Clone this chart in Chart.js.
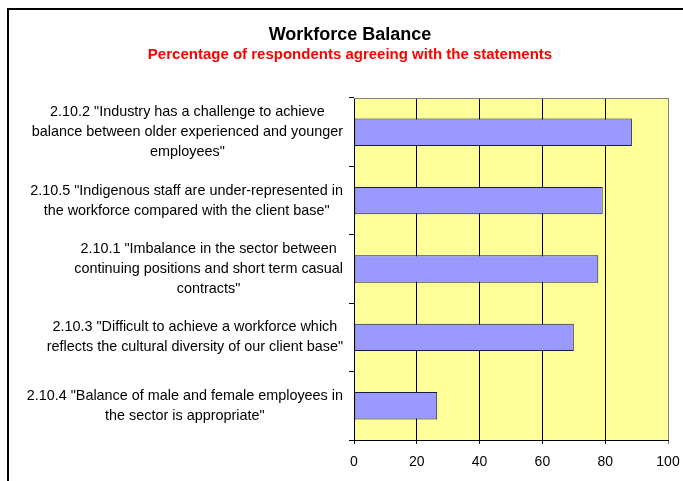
<!DOCTYPE html>
<html>
<head>
<meta charset="utf-8">
<script src="https://cdn.jsdelivr.net/npm/chart.js@4"></script>
<style>
  html, body { margin: 0; padding: 0; background: #fff; }
  #wrap { position: relative; width: 683px; height: 481px; }
</style>
</head>
<body>
<div id="wrap"><canvas id="chart" width="683" height="481"></canvas></div>
<script>
// ── DATA ──
const chartTitle    = 'Workforce Balance';
const chartSubtitle = 'Percentage of respondents agreeing with the statements';

const statements = [
    ['2.10.2 "Industry has a challenge to achieve', 'balance between older experienced and younger', 'employees"'],
    ['2.10.5 "Indigenous staff are under-represented in', 'the workforce compared with the client base"'],
    ['2.10.1 "Imbalance in the sector between', 'continuing positions and short term casual', 'contracts"'],
    ['2.10.3 "Difficult to achieve a workforce which', 'reflects the cultural diversity of our client base"'],
    ['2.10.4 "Balance of male and female employees in', 'the sector is appropriate"']
];
const agreePct = [88.5, 79.2, 77.8, 70.0, 26.5];
const xTickValues = [0, 20, 40, 60, 80, 100];

// ── PALETTE ──
const PLOT_BG  = '#FFFF99';
const BAR_FILL = '#9999FF';
const EDGE     = '#808080';
const FONT     = "'Liberation Sans', Arial, sans-serif";

// Plot background, gray top/right edges, outer frame, titles
const decorPlugin = {
    id: 'decor',
    beforeDraw(chart) {
        const { ctx, chartArea: a } = chart;
        ctx.save();
        ctx.fillStyle = PLOT_BG;
        ctx.fillRect(a.left, a.top, a.right - a.left, a.bottom - a.top);
        ctx.restore();
    },
    beforeDatasetsDraw(chart) {
        const { ctx, chartArea: a } = chart;
        ctx.save();
        ctx.strokeStyle = EDGE;
        ctx.lineWidth = 1;
        ctx.beginPath();
        ctx.moveTo(a.left, a.top + 0.5);
        ctx.lineTo(a.right + 0.5, a.top + 0.5);
        ctx.lineTo(a.right + 0.5, a.bottom);
        ctx.stroke();
        ctx.restore();
    },
    afterDraw(chart) {
        const { ctx } = chart;
        ctx.save();
        // outer frame (runs off the right and bottom edges)
        ctx.strokeStyle = '#000';
        ctx.lineWidth = 2;
        ctx.strokeRect(8, 9, 720, 520);

        ctx.textAlign = 'center';
        ctx.textBaseline = 'middle';
        ctx.fillStyle = '#000';
        ctx.font = 'bold 18px ' + FONT;
        ctx.fillText(chartTitle, 350, 35);
        ctx.fillStyle = '#FF0000';
        ctx.font = 'bold 15px ' + FONT;
        ctx.fillText(chartSubtitle, 350, 55);

        // category labels: each block centred, block right edge aligned
        const y = chart.scales.y;
        ctx.fillStyle = '#000';
        ctx.font = '14.4px ' + FONT;
        const lineH = 20;
        const rightEdge = 343;
        statements.forEach((lines, i) => {
            const cy = y.getPixelForValue(i);
            const w = Math.max(...lines.map(l => ctx.measureText(l).width));
            const cx = rightEdge - w / 2;
            const y0 = cy - (lines.length - 1) * lineH / 2;
            lines.forEach((l, k) => ctx.fillText(l, cx, y0 + k * lineH));
        });
        ctx.restore();
    }
};

new Chart(document.getElementById('chart'), {
    type: 'bar',
    data: {
        labels: statements,
        datasets: [{
            data: agreePct,
            backgroundColor: BAR_FILL,
            borderColor: '#1a1a40',
            borderWidth: 1,
            borderSkipped: false,
            barPercentage: 0.4,
            categoryPercentage: 1
        }]
    },
    options: {
        indexAxis: 'y',
        responsive: false,
        animation: false,
        layout: { padding: { top: 98, right: 15, left: 0, bottom: 0 } },
        plugins: {
            legend: { display: false },
            title: { display: false },
            tooltip: { enabled: false }
        },
        scales: {
            x: {
                min: 0,
                max: 100,
                afterBuildTicks: (s) => { s.ticks = xTickValues.map(v => ({ value: v })); },
                afterFit: (s) => { s.height = 41; s.paddingLeft = 0; s.paddingRight = 0; },
                grid: {
                    color: (c) => (c.tick && c.tick.value === 100 ? EDGE : '#000'),
                    lineWidth: 1,
                    tickLength: 4,
                    drawTicks: true
                },
                border: { color: '#000', width: 1 },
                ticks: {
                    color: '#000',
                    padding: 10,
                    font: { family: FONT, size: 14 }
                }
            },
            y: {
                afterFit: (s) => { s.width = 354; },
                grid: {
                    offset: true,
                    drawOnChartArea: false,
                    drawTicks: true,
                    tickLength: 5,
                    color: '#000'
                },
                border: { color: '#000', width: 1 },
                ticks: { display: false }
            }
        }
    },
    plugins: [decorPlugin]
});
</script>
</body>
</html>
